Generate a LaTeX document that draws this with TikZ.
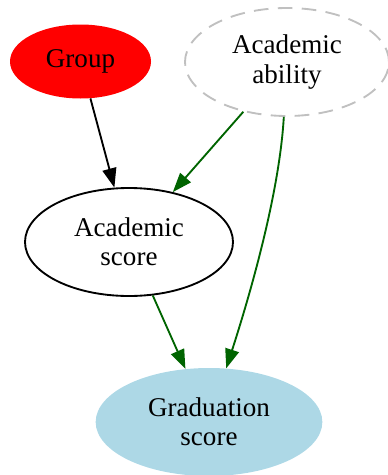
\documentclass[tikz,border=0pt]{standalone}
\usepackage{fontspec}
\setmainfont{Liberation Serif}
\usetikzlibrary{shapes.geometric,arrows.meta}
\definecolor{gvgreen}{HTML}{006400}
\definecolor{gvblue}{HTML}{ADD8E6}
\definecolor{gvgray}{HTML}{C0C0C0}
\begin{document}
\begin{tikzpicture}[
		x=0.75pt,
		y=0.75pt,
		every node/.style={
				ellipse,
				inner sep=0pt,
				align=center,
				font=\fontsize{20.3}{21.8}\selectfont
			},
		edge/.style={
				line width=1.4pt,
				-{Triangle[length=14.5pt,width=10.5pt]}
			},
		greenedge/.style={
				edge,
				draw=gvgreen
			}
	]
	\useasboundingbox (0,0) rectangle (388,-475);
	\node[fill=red, minimum width=105.75pt, minimum height=55.5pt] (group) at (80.5,-61.5) {Group};
	\node[draw=gvgray, line width=1.4pt, dash pattern=on 11pt off 7pt, minimum width=153pt, minimum height=81pt] (ability) at (287,-62) {Academic\\ability};
	\node[draw, line width=1.4pt, minimum width=156pt, minimum height=81pt] (acscore) at (129,-242) {Academic\\score};
	\node[fill=gvblue, minimum width=170pt, minimum height=81pt] (gradscore) at (209,-422) {Graduation\\score};
	\draw[edge] (group) -- (acscore);
	\draw[greenedge] (ability) -- (acscore);
	\draw[greenedge] (acscore) -- (gradscore);
	\draw[greenedge] (ability) .. controls (279,-200) and (245,-310) .. (gradscore);
\end{tikzpicture}
\end{document}
